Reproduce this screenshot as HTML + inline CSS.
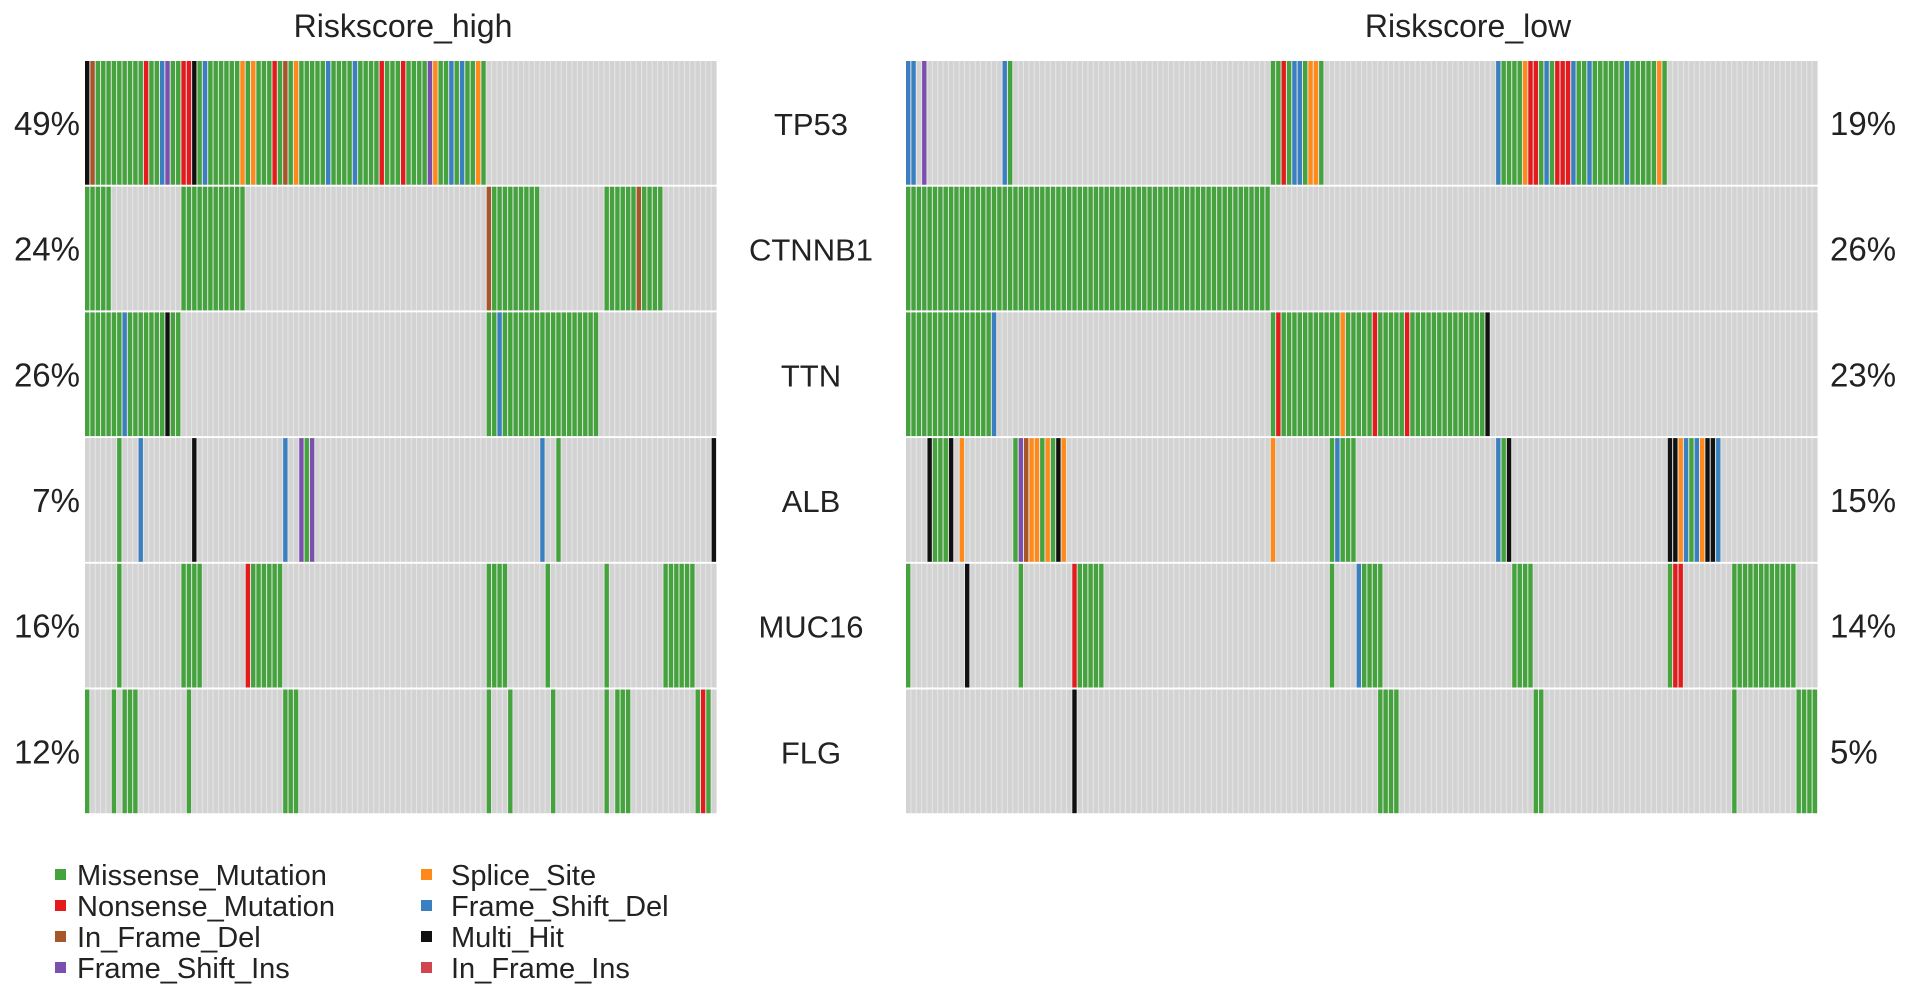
<!DOCTYPE html>
<html><head><meta charset="utf-8">
<style>
html,body{margin:0;padding:0;background:#fff;}
svg{display:block;font-family:"Liberation Sans",Arial,sans-serif;}
</style></head>
<body>
<svg id="chart" width="1913" height="995" viewBox="0 0 1913 995">
<text x="403" y="37" font-size="32" text-anchor="middle" fill="#222">Riskscore_high</text>
<text x="1468" y="37" font-size="32" text-anchor="middle" fill="#222">Riskscore_low</text>
<g id="cells"></g>
<g id="labels"></g>
<g id="legend"></g>
</svg>
<script>
const genes = ["TP53","CTNNB1","TTN","ALB","MUC16","FLG"];
const pctHigh = ["49%","24%","26%","7%","16%","12%"];
const pctLow = ["19%","26%","23%","15%","14%","5%"];
const nHigh = 118;
const nLow = 170;
// mutations: [startIdx, endIdx, type]; later entries override earlier
const highTP53 = [[0,74,"M"],[0,0,"H"],[1,1,"D"],[11,11,"N"],[14,14,"F"],[15,15,"I"],[18,19,"N"],[20,20,"H"],[22,22,"F"],[29,29,"S"],[31,31,"S"],[35,35,"N"],[37,37,"D"],[39,39,"S"],[45,45,"F"],[50,50,"F"],[55,55,"N"],[59,59,"N"],[64,64,"I"],[65,65,"S"],[68,68,"F"],[70,70,"F"],[73,73,"S"]];
const highCTNNB1 = [[0,4,"M"],[18,29,"M"],[75,84,"M"],[75,75,"D"],[97,107,"M"],[103,103,"D"]];
const highTTN = [[0,17,"M"],[7,7,"F"],[15,15,"H"],[75,95,"M"],[77,77,"F"]];
const highALB = [[6,6,"M"],[10,10,"F"],[20,20,"H"],[37,37,"F"],[40,40,"I"],[41,41,"M"],[42,42,"I"],[85,85,"F"],[88,88,"M"],[117,117,"H"]];
const highMUC16 = [[6,6,"M"],[18,21,"M"],[30,30,"N"],[31,36,"M"],[75,78,"M"],[86,86,"M"],[97,97,"M"],[108,113,"M"]];
const highFLG = [[0,0,"M"],[5,5,"M"],[7,9,"M"],[19,19,"M"],[37,39,"M"],[75,75,"M"],[79,79,"M"],[87,87,"M"],[97,97,"M"],[99,101,"M"],[114,116,"M"],[115,115,"N"]];
const lowTP53 = [[0,1,"F"],[3,3,"I"],[18,18,"F"],[19,19,"M"],[68,77,"M"],[70,70,"N"],[72,73,"F"],[75,76,"S"],[110,141,"M"],[110,110,"F"],[115,115,"S"],[116,117,"N"],[119,119,"F"],[121,123,"N"],[124,124,"F"],[127,127,"F"],[134,134,"F"],[140,140,"S"]];
const lowCTNNB1 = [[0,67,"M"]];
const lowTTN = [[0,16,"M"],[16,16,"F"],[68,108,"M"],[69,69,"N"],[81,81,"S"],[87,87,"N"],[93,93,"N"],[108,108,"H"]];
const lowALB = [[4,4,"H"],[5,7,"M"],[8,8,"H"],[10,10,"S"],[20,20,"M"],[21,21,"I"],[22,22,"D"],[23,24,"S"],[25,25,"M"],[26,26,"S"],[27,27,"M"],[28,28,"H"],[29,29,"S"],[68,68,"S"],[79,83,"M"],[80,80,"F"],[110,110,"F"],[111,111,"M"],[112,112,"H"],[142,143,"H"],[144,144,"S"],[145,145,"F"],[146,146,"M"],[147,147,"F"],[148,148,"S"],[149,150,"H"],[151,151,"F"]];
const lowMUC16 = [[0,0,"M"],[11,11,"H"],[21,21,"M"],[31,31,"N"],[32,36,"M"],[79,79,"M"],[84,84,"F"],[85,88,"M"],[113,116,"M"],[142,142,"M"],[143,144,"N"],[154,165,"M"]];
const lowFLG = [[31,31,"H"],[88,91,"M"],[117,118,"M"],[154,154,"M"],[166,169,"M"]];
const highData = [highTP53,highCTNNB1,highTTN,highALB,highMUC16,highFLG];
const lowData = [lowTP53,lowCTNNB1,lowTTN,lowALB,lowMUC16,lowFLG];
const legendTypes = ["M","N","D","I","S","F","H","J"];
const legendNames = ["Missense_Mutation","Nonsense_Mutation","In_Frame_Del","Frame_Shift_Ins","Splice_Site","Frame_Shift_Del","Multi_Hit","In_Frame_Ins"];

const colors = {M:"#45a33d",N:"#e41a1c",D:"#a65628",I:"#7b4fae",S:"#ff8a1a",F:"#3a7fc0",H:"#111111",J:"#d0454f",G:"#d3d3d3"};
const NS = "http://www.w3.org/2000/svg";
const top0 = 61, rowH = 125.7;
const panels = [{x0:85,w:632,n:nHigh,data:highData,name:"high"},{x0:906,w:912,n:nLow,data:lowData,name:"low"}];
const cells = document.getElementById("cells");
function xScale(p,i){return p.x0 + i*p.w/p.n;}
function yScale(r){return top0 + r*rowH;}
panels.forEach(p=>{
  const cw = p.w/p.n;
  p.data.forEach((runs,r)=>{
    const arr = new Array(p.n).fill("G");
    runs.forEach(([a,b,t])=>{for(let i=a;i<=b;i++) if(i<p.n) arr[i]=t;});
    const bg = document.createElementNS(NS,"rect");
    bg.setAttribute("x",p.x0);bg.setAttribute("y",yScale(r));
    bg.setAttribute("width",p.w);bg.setAttribute("height",rowH-2);
    bg.setAttribute("fill","#e6e6e6");
    
    
    cells.appendChild(bg);
    arr.forEach((t,i)=>{
      const rc = document.createElementNS(NS,"rect");
      rc.setAttribute("x",xScale(p,i));rc.setAttribute("y",yScale(r));
      rc.setAttribute("width",Math.max(cw-1,1));rc.setAttribute("height",rowH-2);
      rc.setAttribute("fill",colors[t]);
      
      
      cells.appendChild(rc);
    });
  });
});
const labels = document.getElementById("labels");
genes.forEach((g,r)=>{
  const cy = yScale(r)+rowH/2+11;
  const t1 = document.createElementNS(NS,"text");
  t1.setAttribute("x",811);t1.setAttribute("y",cy);t1.setAttribute("font-size","31");
  t1.setAttribute("text-anchor","middle");t1.setAttribute("fill","#222");t1.textContent=g;
  
  
  labels.appendChild(t1);
  const t2 = document.createElementNS(NS,"text");
  t2.setAttribute("x",80);t2.setAttribute("y",cy);t2.setAttribute("font-size","33");
  t2.setAttribute("text-anchor","end");t2.setAttribute("fill","#222");t2.textContent=pctHigh[r];
  
  
  labels.appendChild(t2);
  const t3 = document.createElementNS(NS,"text");
  t3.setAttribute("x",1830);t3.setAttribute("y",cy);t3.setAttribute("font-size","33");
  t3.setAttribute("text-anchor","start");t3.setAttribute("fill","#222");t3.textContent=pctLow[r];
  
  
  labels.appendChild(t3);
});
const legend = document.getElementById("legend");
const legYs = [875,906,937,968];
legendTypes.forEach((t,k)=>{
  const col = Math.floor(k/4), row = k%4;
  const sx = col===0?55:421, tx = col===0?77:451;
  const sq = document.createElementNS(NS,"rect");
  sq.setAttribute("x",sx);sq.setAttribute("y",legYs[row]-6);
  sq.setAttribute("width",11);sq.setAttribute("height",11);sq.setAttribute("fill",colors[t]);
  
  
  legend.appendChild(sq);
  const tx1 = document.createElementNS(NS,"text");
  tx1.setAttribute("x",tx);tx1.setAttribute("y",legYs[row]+10);
  tx1.setAttribute("font-size","29");tx1.setAttribute("fill","#222");
  tx1.textContent = legendNames[k];
  
  
  legend.appendChild(tx1);
});
</script>
</body></html>
